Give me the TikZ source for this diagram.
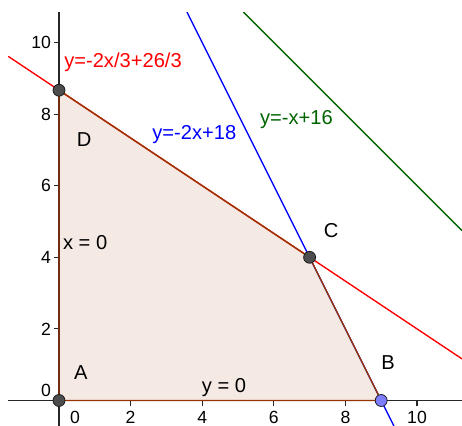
\documentclass[tikz,border=0pt]{standalone}
\usepackage{fontspec}
\setmainfont{Liberation Sans}
\definecolor{ggbrown}{RGB}{153,51,0}
\definecolor{ggfill}{RGB}{245,233,228}
\definecolor{ggpoint}{RGB}{77,77,77}
\definecolor{ggblue}{RGB}{125,125,255}
\definecolor{gggreen}{RGB}{0,100,0}
\begin{document}
\begin{tikzpicture}[
    axis/.style={line width=0.9pt, black!85},
    ticklbl/.style={font=\fontsize{14}{16}\selectfont, inner sep=0.5pt},
    lbl/.style={font=\fontsize{16}{19}\selectfont},
    constr/.style={line width=1.1pt},
    pt/.style={circle, draw=black!90, fill=ggpoint, inner sep=0pt, minimum size=9.5pt, line width=0.6pt}
  ]
  \useasboundingbox (-1.648,-0.712) rectangle (11.257,11.187);
  %% corners of the region
  \coordinate (pA) at (0,0);
  \coordinate (pB) at (9,0);
  \coordinate (pC) at (7,4);
  \coordinate (pD) at (0,26/3);
  %% region
  \fill[ggfill] (pA) -- (pB) -- (pC) -- (pD) -- cycle;
  %% axes
  \draw[axis] (-1.42,0) -- (11.257,0);
  \draw[axis] (0,-0.712) -- (0,10.85);
  \foreach \x in {2,4,...,10} {
    \draw[axis] (\x,0) -- (\x,-0.14);
    \node[ticklbl] at (\x,-0.47) {\x};
  }
  \foreach \y in {2,4,...,10} {
    \draw[axis] (0,\y) -- (-0.14,\y);
    \node[ticklbl, anchor=east] at (-0.2,\y) {\y};
  }
  \node[ticklbl] at (0.45,-0.47) {0};
  \node[ticklbl, anchor=east] at (-0.2,0.29) {0};
  %% constraint lines
  \begin{scope}
    \clip (-1.42,-0.712) rectangle (11.257,10.85);
    \draw[constr, red] (-1.42,{-2*(-1.42)/3+26/3}) -- (11.257,{-2*11.257/3+26/3});
    \draw[constr, blue] (3.575,10.85) -- (9.356,-0.712);
    \draw[constr, gggreen] (5.15,10.85) -- (11.257,4.743);
  \end{scope}
  %% border of the region
  \draw[constr, ggbrown, line join=round] (pA) -- (pB) -- (pC) -- (pD) -- cycle;
  %% points
  \node[pt] (A) at (pA) {};
  \node[pt, fill=ggblue] (B) at (pB) {};
  \node[pt] (C) at (pC) {};
  \node[pt] (D) at (pD) {};
  \node[lbl] (lA) at (0.61,0.77) {A};
  \node[lbl] (lB) at (9.19,1.07) {B};
  \node[lbl] (lC) at (7.60,4.76) {C};
  \node[lbl] (lD) at (0.70,7.30) {D};
  %% equations
  \node[lbl, red, anchor=base west, inner sep=0pt] (eqr) at (0.14,9.29) {y=-2x/3+26/3};
  \node[lbl, blue, anchor=base west, inner sep=0pt] (eqb) at (2.60,7.30) {y=-2x+18};
  \node[lbl, gggreen, anchor=base west, inner sep=0pt] (eqg) at (5.61,7.70) {y=-x+16};
  \node[lbl] (eqx) at (0.73,4.40) {x = 0};
  \node[lbl] (eqy) at (4.61,0.35) {y = 0};
\end{tikzpicture}
\end{document}
